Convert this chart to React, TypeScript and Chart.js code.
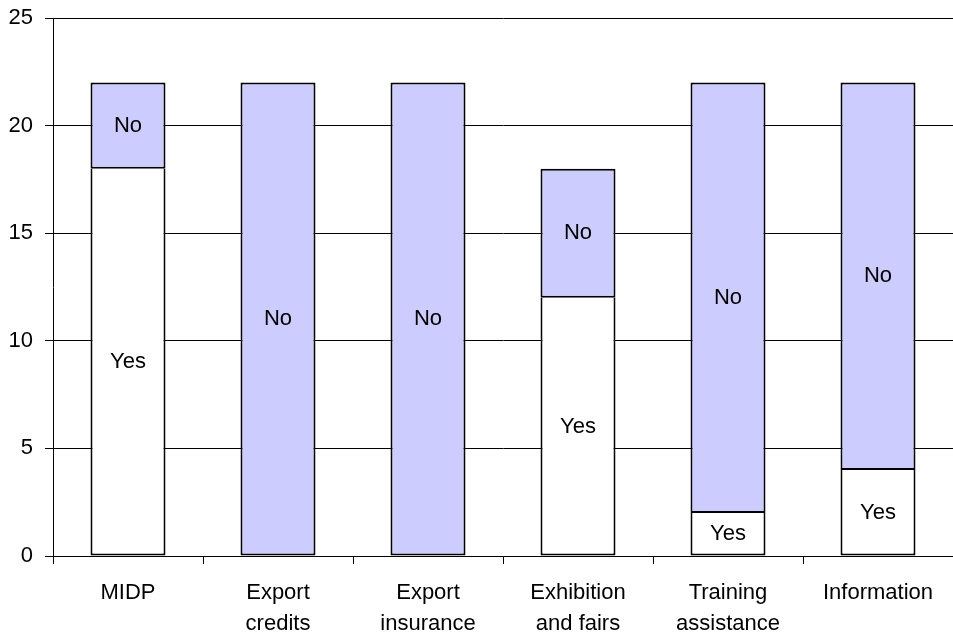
import React, { useEffect, useRef } from "react";
import { Chart, registerables } from "chart.js";

Chart.register(...registerables);

const categories: string[][] = [
  ["MIDP"],
  ["Export", "credits"],
  ["Export", "insurance"],
  ["Exhibition", "and fairs"],
  ["Training", "assistance"],
  ["Information"],
];
const yesValues = [18, 0, 0, 12, 2, 4];
const noValues = [4, 22, 22, 6, 20, 18];
const yTicks = [0, 5, 10, 15, 20, 25];

const FONT = "'Liberation Sans', Arial, sans-serif";

const segmentLabels = {
  id: "segmentLabels",
  afterDatasetsDraw(chart: any) {
    const ctx = chart.ctx;
    ctx.save();
    ctx.font = `22px ${FONT}`;
    ctx.fillStyle = "#000";
    ctx.textAlign = "center";
    ctx.textBaseline = "middle";
    chart.data.datasets.forEach((ds: any, di: number) => {
      const meta = chart.getDatasetMeta(di);
      meta.data.forEach((el: any, i: number) => {
        const v = ds.data[i];
        if (!v) return;
        const y = (el.y + el.base) / 2;
        ctx.fillText(ds.label, el.x, y);
      });
    });
    ctx.restore();
  },
};

export default function App() {
  const ref = useRef<HTMLCanvasElement>(null);
  useEffect(() => {
    document.body.style.margin = "0";
    const chart = new Chart(ref.current!, {
      type: "bar",
      data: {
        labels: categories,
        datasets: [
          {
            label: "Yes",
            data: yesValues.map((v) => (v > 0 ? v : null)),
            backgroundColor: "#FFFFFF",
            borderColor: "#000000",
            borderWidth: 2,
            borderSkipped: "end",
          },
          {
            label: "No",
            data: noValues,
            backgroundColor: "#CCCCFF",
            borderColor: "#000000",
            borderWidth: 2,
            borderSkipped: false,
          },
        ],
      },
      options: {
        responsive: false,
        animation: false,
        layout: { padding: { top: 18, right: 0, left: 0, bottom: 0 } },
        plugins: { legend: { display: false }, tooltip: { enabled: false } },
        datasets: { bar: { barPercentage: 0.5, categoryPercentage: 1 } },
        scales: {
          x: {
            stacked: true,
            grid: {
              drawOnChartArea: false,
              drawTicks: true,
              tickLength: 8,
              color: "#000",
              offset: true,
            },
            border: { color: "#000", width: 1 },
            ticks: {
              color: "#000",
              font: { family: FONT, size: 22, lineHeight: 1.4 },
              padding: 14,
              maxRotation: 0,
              autoSkip: false,
            },
            afterFit(scale: any) {
              scale.height = 81;
              scale.paddingLeft = 0;
              scale.paddingRight = 0;
            },
          },
          y: {
            stacked: true,
            min: 0,
            max: 25,
            afterBuildTicks(scale: any) {
              scale.ticks = yTicks.map((v) => ({ value: v }));
            },
            grid: { color: "#000", lineWidth: 1, tickLength: 8 },
            border: { color: "#000", width: 1 },
            ticks: {
              color: "#000",
              font: { family: FONT, size: 22 },
              padding: 12,
            },
            afterFit(scale: any) {
              scale.width = 53;
              scale.paddingTop = 0;
              scale.paddingBottom = 0;
            },
          },
        },
      },
      plugins: [segmentLabels],
    });
    return () => chart.destroy();
  }, []);
  return (
    <div style={{ position: "absolute", left: 0, top: 0, width: 953, height: 637 }}>
      <canvas ref={ref} width={953} height={637} />
    </div>
  );
}
